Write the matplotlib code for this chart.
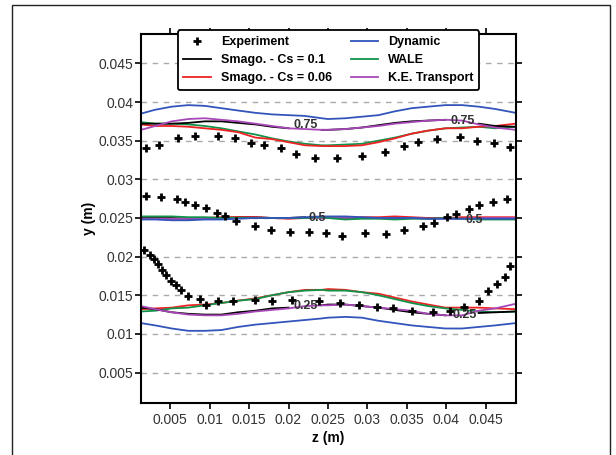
import numpy as np
import matplotlib
matplotlib.use("Agg")
import matplotlib.pyplot as plt
from matplotlib.lines import Line2D
from matplotlib.patches import Rectangle

plt.rcParams['font.family'] = ['Liberation Sans', 'DejaVu Sans']

nan = np.nan

# spanwise positions of the simulated iso-lines
z_sim = [0.0013, 0.0031, 0.0052, 0.0073, 0.0094, 0.0115, 0.0136, 0.0158, 0.0179, 0.0200, 0.0221, 0.0242,
         0.0250, 0.0272, 0.0293, 0.0314, 0.0335, 0.0356, 0.0377, 0.0399, 0.0420, 0.0441, 0.0462, 0.0488]

# iso-line 0.75
smag1_75 = [0.0372, 0.0372, 0.0372, 0.0373, 0.0375, 0.0375, 0.0373, 0.0371, 0.0368, 0.0366, nan, 0.0364,
            0.0364, 0.0365, 0.0367, 0.0370, 0.0373, 0.0375, 0.0376, 0.0377, nan, 0.0372, 0.0369, 0.0368]
smag06_75 = [0.0371, 0.0369, 0.0369, 0.0368, 0.0366, 0.0364, 0.0361, 0.0354, 0.0352, 0.0348, 0.0344, 0.0343,
             0.0343, 0.0343, 0.0344, 0.0348, 0.0353, 0.0359, 0.0363, 0.0366, 0.0366, 0.0368, 0.0369, 0.0372]
dyn_75 = [0.0385, 0.0390, 0.0394, 0.0396, 0.0395, 0.0392, 0.0389, 0.0386, 0.0384, 0.0383, 0.0382, 0.0379,
          0.0378, 0.0379, 0.0381, 0.0383, 0.0388, 0.0392, 0.0394, 0.0396, 0.0396, 0.0394, 0.0391, 0.0386]
wale_75 = [0.0374, 0.0372, 0.0372, 0.0371, 0.0369, 0.0366, 0.0362, 0.0358, 0.0353, 0.0349, 0.0346, 0.0344,
           0.0344, 0.0345, 0.0346, 0.0350, 0.0354, 0.0359, 0.0363, 0.0366, 0.0367, 0.0368, 0.0366, 0.0368]
ket_75 = [0.0364, 0.0369, 0.0375, 0.0378, 0.0379, 0.0377, 0.0375, 0.0372, 0.0369, 0.0366, 0.0365, 0.0364,
          0.0364, 0.0365, 0.0367, 0.0369, 0.0372, 0.0374, 0.0376, 0.0377, 0.0376, 0.0371, 0.0367, 0.0364]

# iso-line 0.5
smag1_50 = [0.0250, 0.0250, 0.0250, 0.0249, 0.0249, 0.0250, 0.0251, 0.0251, 0.0250, 0.0250, 0.0251, nan,
            0.0250, 0.0250, 0.0250, 0.0250, 0.0250, 0.0250, 0.0250, 0.0250, 0.0250, nan, 0.0250, 0.0250]
smag06_50 = [0.0249, 0.0249, 0.0249, 0.0249, 0.0250, 0.0251, 0.0251, 0.0251, 0.0250, 0.0249, 0.0250, 0.0251,
             0.0251, 0.0250, 0.0251, 0.0251, 0.0252, 0.0251, 0.0250, 0.0250, 0.0251, 0.0251, 0.0251, 0.0251]
dyn_50 = [0.0248, 0.0248, 0.0247, 0.0247, 0.0248, 0.0248, 0.0249, 0.0250, 0.0250, 0.0250, 0.0251, 0.0252,
          0.0252, 0.0252, 0.0251, 0.0250, 0.0250, 0.0250, 0.0249, 0.0249, 0.0249, 0.0249, 0.0249, 0.0249]
wale_50 = [0.0252, 0.0252, 0.0252, 0.0251, 0.0251, 0.0250, 0.0250, 0.0250, 0.0250, 0.0250, 0.0250, 0.0251,
           0.0250, 0.0248, 0.0249, 0.0249, 0.0248, 0.0249, 0.0249, 0.0250, 0.0249, 0.0248, 0.0248, 0.0248]
ket_50 = [0.0249, 0.0249, 0.0249, 0.0249, 0.0249, 0.0250, 0.0250, 0.0250, 0.0250, 0.0250, 0.0250, 0.0250,
          0.0250, 0.0250, 0.0250, 0.0250, 0.0250, 0.0250, 0.0249, 0.0249, 0.0249, 0.0250, 0.0250, 0.0250]

# iso-line 0.25
smag1_25 = [0.0134, 0.0132, 0.0128, 0.0126, 0.0125, 0.0125, 0.0128, 0.0130, 0.0133, 0.0134, nan, 0.0137,
            0.0138, 0.0138, 0.0136, 0.0134, 0.0131, 0.0128, 0.0126, 0.0124, nan, 0.0127, 0.0128, 0.0129]
smag06_25 = [0.0132, 0.0133, 0.0134, 0.0137, 0.0138, 0.0140, 0.0143, 0.0146, 0.0150, 0.0154, 0.0157, 0.0157,
             0.0158, 0.0157, 0.0154, 0.0152, 0.0147, 0.0142, 0.0138, 0.0134, 0.0134, 0.0134, 0.0133, 0.0132]
dyn_25 = [0.0114, 0.0111, 0.0107, 0.0104, 0.0104, 0.0105, 0.0109, 0.0112, 0.0114, 0.0116, 0.0118, 0.0120,
          0.0121, 0.0122, 0.0121, 0.0117, 0.0114, 0.0111, 0.0109, 0.0107, 0.0107, 0.0109, 0.0111, 0.0114]
wale_25 = [0.0129, 0.0130, 0.0133, 0.0134, 0.0137, 0.0140, 0.0143, 0.0145, 0.0150, 0.0154, 0.0156, 0.0157,
           0.0156, 0.0156, 0.0154, 0.0150, 0.0145, 0.0140, 0.0136, 0.0133, 0.0131, 0.0129, 0.0128, 0.0129]
ket_25 = [0.0136, 0.0132, 0.0128, 0.0125, 0.0124, 0.0124, 0.0126, 0.0129, 0.0131, 0.0133, 0.0136, 0.0137,
          0.0137, 0.0138, 0.0136, 0.0134, 0.0132, 0.0130, 0.0126, 0.0124, 0.0124, 0.0130, 0.0133, 0.0139]

# experimental iso-lines
exp_top_z = [0.0019, 0.0036, 0.0060, 0.0082, 0.0110, 0.0132, 0.0153, 0.0169, 0.0190, 0.0209, 0.0234,
             0.0262, 0.0293, 0.0322, 0.0347, 0.0364, 0.0388, 0.0417, 0.0439, 0.0461, 0.0481]
exp_top_y = [0.0341, 0.0345, 0.0353, 0.0356, 0.0356, 0.0353, 0.0347, 0.0344, 0.0340, 0.0333, 0.0328,
             0.0327, 0.0330, 0.0335, 0.0343, 0.0348, 0.0352, 0.0355, 0.0349, 0.0347, 0.0342]
exp_mid_z = [0.0019, 0.0038, 0.0059, 0.0069, 0.0082, 0.0096, 0.0109, 0.0120, 0.0134, 0.0157, 0.0178, 0.0202,
             0.0226, 0.0247, 0.0268, 0.0297, 0.0323, 0.0347, 0.0371, 0.0385, 0.0401, 0.0412, 0.0429, 0.0442,
             0.0459, 0.0477]
exp_mid_y = [0.0279, 0.0277, 0.0275, 0.0271, 0.0267, 0.0263, 0.0257, 0.0252, 0.0246, 0.0240, 0.0234, 0.0232,
             0.0232, 0.0230, 0.0227, 0.0230, 0.0229, 0.0234, 0.0240, 0.0243, 0.0251, 0.0255, 0.0261, 0.0267,
             0.0271, 0.0275]
exp_bot_z = [0.0017, 0.0024, 0.0029, 0.0034, 0.0039, 0.0045, 0.0051, 0.0058, 0.0064, 0.0072, 0.0088, 0.0096,
             0.0110, 0.0129, 0.0157, 0.0179, 0.0205, 0.0239, 0.0265, 0.0289, 0.0312, 0.0332, 0.0356, 0.0383,
             0.0405, 0.0423, 0.0441, 0.0453, 0.0464, 0.0474, 0.0481]
exp_bot_y = [0.0209, 0.0202, 0.0197, 0.0191, 0.0183, 0.0176, 0.0169, 0.0163, 0.0157, 0.0149, 0.0145, 0.0138,
             0.0142, 0.0142, 0.0144, 0.0142, 0.0144, 0.0143, 0.0140, 0.0138, 0.0135, 0.0133, 0.0130, 0.0128,
             0.0130, 0.0135, 0.0143, 0.0155, 0.0165, 0.0173, 0.0188]

# contour labels: (text, z, y)
iso_labels = [("0.75", 0.0222, 0.0370), ("0.75", 0.0421, 0.0376),
              ("0.5", 0.0237, 0.0250), ("0.5", 0.0435, 0.0248),
              ("0.25", 0.0222, 0.0136), ("0.25", 0.0423, 0.0124)]

yticks = [0.005, 0.01, 0.015, 0.02, 0.025, 0.03, 0.035, 0.04, 0.045]
xticks = [0.005, 0.01, 0.015, 0.02, 0.025, 0.03, 0.035, 0.04, 0.045]
tick_text = ['0.005', '0.01', '0.015', '0.02', '0.025', '0.03', '0.035', '0.04', '0.045']

c_smag1 = 'black'
c_smag06 = '#ee2222'
c_dyn = '#3355bb'
c_wale = '#11924a'
c_ket = '#a848b8'

fig = plt.figure(figsize=(6.16, 4.55), dpi=100)
fig.patches.append(Rectangle((12 / 616, -0.1), 598 / 616, 1.1 - 5 / 455, transform=fig.transFigure,
                             fill=False, edgecolor='#222222', linewidth=1.0))
ax = fig.add_axes([141 / 616, 1 - 402.7 / 455, 374.7 / 616, 368.7 / 455])

for yt in yticks:
    ax.axhline(yt, color='#aaaaaa', linewidth=1.0, dashes=(4, 4), zorder=0)

lw = 1.3
for series, col in [(dyn_75, c_dyn), (wale_75, c_wale), (smag06_75, c_smag06), (smag1_75, c_smag1), (ket_75, c_ket),
                    (smag1_50, c_smag1), (smag06_50, c_smag06), (ket_50, c_ket), (wale_50, c_wale), (dyn_50, c_dyn),
                    (dyn_25, c_dyn), (smag06_25, c_smag06), (wale_25, c_wale), (smag1_25, c_smag1), (ket_25, c_ket)]:
    ax.plot(z_sim, series, color=col, linewidth=lw, zorder=2)

for zz, yy in [(exp_top_z, exp_top_y), (exp_mid_z, exp_mid_y), (exp_bot_z, exp_bot_y)]:
    ax.plot(zz, yy, linestyle='none', marker='+', color='black', markersize=6, markeredgewidth=2.0, zorder=3)

for txt, zx, yy in iso_labels:
    ax.text(zx, yy, txt, fontsize=9, fontweight='bold', color='#333333', ha='center', va='center', zorder=4)

ax.set_xlim(0.0013, 0.0488)
ax.set_ylim(0.0011, 0.0488)
ax.set_xticks(xticks)
ax.set_xticklabels(tick_text)
ax.set_yticks(yticks)
ax.set_yticklabels(tick_text)
ax.tick_params(direction='out', length=4, width=1.2, labelsize=10, labelcolor='#333333',
               top=True, right=True, labeltop=False, labelright=False)
ax.tick_params(axis='y', pad=1.5)
for sp in ax.spines.values():
    sp.set_linewidth(1.5)
ax.set_xlabel('z (m)', fontsize=10, fontweight='bold', labelpad=3)
ax.set_ylabel('y (m)', fontsize=10, fontweight='bold', labelpad=1.5)

handles = [Line2D([], [], linestyle='none', marker='+', color='black', markersize=6, markeredgewidth=2.0),
           Line2D([], [], color=c_smag1, linewidth=lw),
           Line2D([], [], color=c_smag06, linewidth=lw),
           Line2D([], [], color=c_dyn, linewidth=lw),
           Line2D([], [], color=c_wale, linewidth=lw),
           Line2D([], [], color=c_ket, linewidth=lw)]
names = ['Experiment', 'Smago. - Cs = 0.1', 'Smago. - Cs = 0.06', 'Dynamic', 'WALE', 'K.E. Transport']
leg = ax.legend(handles, names, ncol=2, loc='upper center', bbox_to_anchor=(328.5 / 616, 1 - 24 / 455),
                bbox_transform=fig.transFigure, prop={'weight': 'bold', 'size': 9}, frameon=True, fancybox=True,
                edgecolor='black', framealpha=1, labelspacing=0.5, handlelength=2.2, columnspacing=1.5,
                borderpad=0.45)
leg.get_frame().set_linewidth(1.3)
leg.set_zorder(10)

plt.savefig('out.png', dpi=100)
